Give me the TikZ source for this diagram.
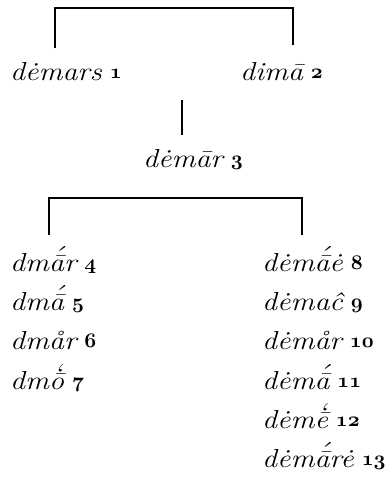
\documentclass[tikz,border=0pt]{standalone}
\usepackage{graphicx}
\newcommand\stackmark[2]{{\ooalign{#1\cr\hidewidth\kern0.04em\raisebox{0.24em}{#2}\hidewidth\cr}}}
\newcommand\aac{\stackmark{ā}{\char"00B4}}
\newcommand\ogr{\stackmark{ō}{\char"0060}}
\newcommand\egr{\stackmark{ē}{\char"0060}}
\newcommand\lbl[2]{\scalebox{1.15}[1]{#1}\hspace{8pt}\raisebox{1.5pt}{\fontsize{21}{22}\usefont{OML}{cmm}{b}{it}#2}}
\tikzset{
  word/.style={anchor=base west, inner sep=0pt, font=\fontsize{26}{30}\selectfont\itshape},
  bar/.style={line width=1.4pt, line cap=butt, line join=miter}
}
\begin{document}
\begin{tikzpicture}[x=1pt,y=-1pt]
\useasboundingbox (0,0) rectangle (390,485);
% text
\node[word] (n1) at (10,80) {\lbl{dėmars}{1}};
\node[word] (n2) at (240,80) {\lbl{dimā}{2}};
\node[word] (n3) at (143,167) {\lbl{dėmār}{3}};
\node[word] (n4) at (10,271) {\lbl{dm\aac r}{4}};
\node[word] (n5) at (10,310) {\lbl{dm\aac}{5}};
\node[word] (n6) at (10,349) {\lbl{dmår}{6}};
\node[word] (n7) at (10,389) {\lbl{dm\ogr}{7}};
\node[word] (n8) at (262,271) {\lbl{dėm\aac ė}{8}};
\node[word] (n9) at (262,310) {\lbl{dėmaĉ}{9}};
\node[word] (n10) at (262,349) {\lbl{dėmår}{10}};
\node[word] (n11) at (262,389) {\lbl{dėm\aac}{11}};
\node[word] (n12) at (262,428) {\lbl{dėm\egr}{12}};
\node[word] (n13) at (262,467) {\lbl{dėm\aac rė}{13}};
% bracket coordinates
\coordinate (a1) at (55,48);
\coordinate (a2) at (55,8);
\coordinate (a3) at (293,8);
\coordinate (a4) at (293,45);
\coordinate (m1) at (182,100);
\coordinate (m2) at (182,135);
\coordinate (b1) at (49,235);
\coordinate (b2) at (49,198);
\coordinate (b3) at (302,198);
\coordinate (b4) at (302,235);
\draw[bar] (a1) -- (a2) -- (a3) -- (a4);
\draw[bar] (m1) -- (m2);
\draw[bar] (b1) -- (b2) -- (b3) -- (b4);
\end{tikzpicture}
\end{document}
